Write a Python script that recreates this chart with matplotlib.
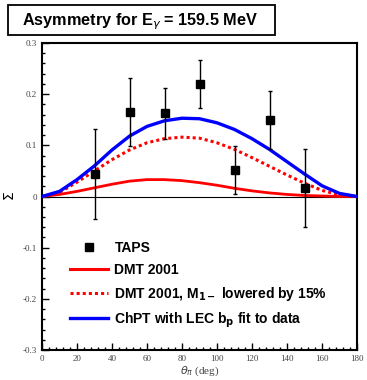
import matplotlib
matplotlib.use("Agg")
import matplotlib.pyplot as plt
from matplotlib.lines import Line2D
from matplotlib.patches import Rectangle
from matplotlib.ticker import MultipleLocator, FormatStrFormatter

# ── data ─────────────────────────────────────────────────────────────────────
taps_theta = [30, 50, 70, 90, 110, 130, 150]
taps_sigma = [0.044, 0.165, 0.163, 0.220, 0.051, 0.149, 0.017]
taps_err   = [0.088, 0.066, 0.050, 0.047, 0.047, 0.057, 0.076]

curve_theta = [0, 10, 20, 30, 40, 50, 60, 70, 80, 90,
               100, 110, 120, 130, 140, 150, 160, 170, 180]
dmt2001 = [0.0, 0.004, 0.010, 0.017, 0.024, 0.030, 0.033, 0.033, 0.031, 0.027,
           0.022, 0.016, 0.011, 0.007, 0.004, 0.002, 0.001, 0.0, 0.0]
dmt2001_m1 = [0.0, 0.008, 0.028, 0.050, 0.072, 0.091, 0.105, 0.113, 0.116, 0.114,
              0.105, 0.092, 0.076, 0.059, 0.042, 0.026, 0.012, 0.003, 0.0]
chpt = [0.0, 0.010, 0.033, 0.060, 0.091, 0.118, 0.137, 0.148, 0.153, 0.152,
        0.144, 0.131, 0.113, 0.092, 0.068, 0.044, 0.021, 0.006, 0.0]

legend_labels = ["TAPS", "DMT 2001",
                 r"DMT 2001, M$_{\mathbf{1-}}$ lowered by 15%",
                 r"ChPT with LEC b$_{\mathbf{p}}$ fit to data"]

_RED  = "#ff0000"
_BLUE = "#0000ff"
_DOTS = (0, (1, 1))

W, H = 367, 380
fig = plt.figure(figsize=(W / 100, H / 100), dpi=100)
ax = fig.add_axes([42 / W, 30 / H, 315 / W, 307 / H])

ax.axhline(0, color="black", linewidth=0.8, zorder=1)
ax.plot(curve_theta, dmt2001, color=_RED, linewidth=2.0, zorder=2)
ax.plot(curve_theta, dmt2001_m1, color=_RED, linewidth=2.2, linestyle=_DOTS, zorder=2)
ax.plot(curve_theta, chpt, color=_BLUE, linewidth=2.4, zorder=3)
ax.errorbar(taps_theta, taps_sigma, yerr=taps_err, fmt="s", color="black",
            markersize=5.8, elinewidth=1.0, capsize=1.5, capthick=1.0, zorder=4)

ax.set_xlim(0, 180)
ax.set_ylim(-0.3, 0.3)
ax.xaxis.set_major_locator(MultipleLocator(20))
ax.xaxis.set_minor_locator(MultipleLocator(4))
ax.yaxis.set_major_locator(MultipleLocator(0.1))
ax.yaxis.set_minor_locator(MultipleLocator(0.02))
ax.yaxis.set_major_formatter(FormatStrFormatter("%g"))
ax.tick_params(which="both", direction="in", top=False, right=False,
               labelsize=6.5, labelcolor="#444444", width=1.0)
ax.tick_params(which="major", length=5)
ax.tick_params(which="minor", length=2.5)
for lab in ax.get_xticklabels() + ax.get_yticklabels():
    lab.set_family("Liberation Serif")
for s in ax.spines.values():
    s.set_linewidth(1.5)

ax.set_xlabel(r"$\theta_{\pi}$ (deg)", family="Liberation Serif", fontsize=8,
              color="#444444", labelpad=1)
ax.set_ylabel(r"$\Sigma$", fontsize=10, labelpad=4)

handles = [
    Line2D([], [], marker="s", color="black", linestyle="none", markersize=5.8),
    Line2D([], [], color=_RED, linewidth=2.2),
    Line2D([], [], color=_RED, linewidth=2.2, linestyle=_DOTS),
    Line2D([], [], color=_BLUE, linewidth=2.4),
]
ax.legend(handles, legend_labels, loc="upper left",
          bbox_to_anchor=((70 - 42) / 315, (350 - 241) / 307),
          frameon=False, borderpad=0, borderaxespad=0,
          handlelength=2.7, handletextpad=0.5, labelspacing=0.56,
          prop={"family": "Liberation Sans", "weight": "bold", "size": 10})

# title box
fig.patches.append(Rectangle((8 / W, 1 - 35 / H), 267 / W, 30 / H,
                             transform=fig.transFigure, facecolor="white",
                             edgecolor="black", linewidth=1.3))
fig.text(22 / W, 1 - 25 / H, r"Asymmetry for E$_{\gamma}$ = 159.5 MeV",
         family="Liberation Sans", weight="bold", fontsize=11.7, va="baseline")

fig.savefig("out.png", dpi=100)
